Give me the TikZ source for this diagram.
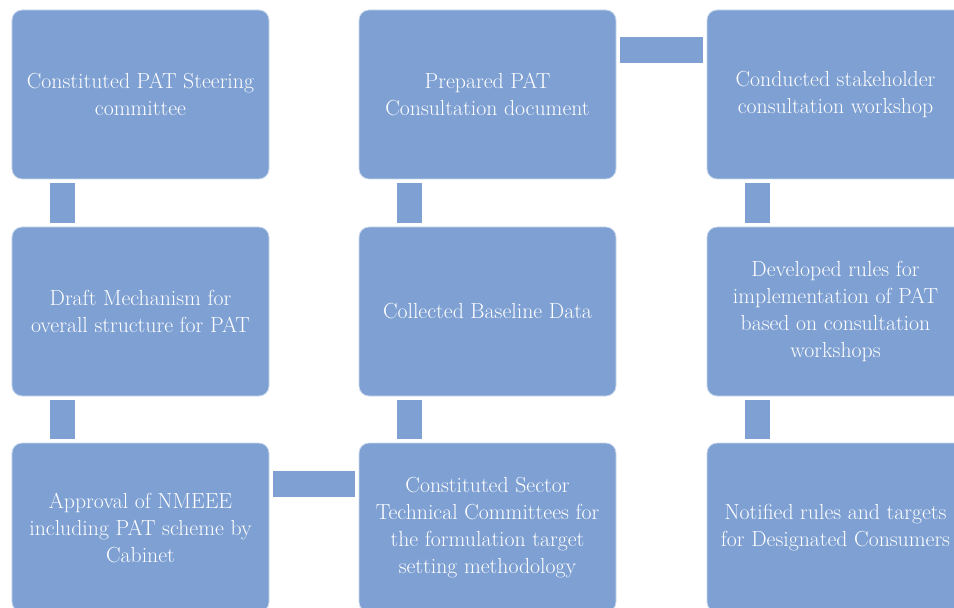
\documentclass[tikz,border=0pt]{standalone}
\definecolor{stepblue}{RGB}{126,160,210}
\tikzset{
  stage/.style={rectangle, rounded corners=0.25cm, fill=stepblue,
    draw=white!60!stepblue, line width=0.6pt,
    minimum width=6.425cm, minimum height=4.225cm,
    text=white, align=center, font=\fontsize{15.5}{19.2}\selectfont},
  vlink/.style={draw=stepblue, line width=0.625cm},
  hlink/.style={draw=stepblue, line width=0.67cm}
}
\begin{document}
\begin{tikzpicture}
    \useasboundingbox (0,0) rectangle (23.85,15.175);
    \clip (0,0) rectangle (23.85,15.175);
    % first column
    \node[stage] (steer) at (3.5125,12.8125) {Constituted PAT Steering\\committee};
    \node[stage] (draft) at (3.5125,7.3875) {Draft Mechanism for\\overall structure for PAT};
    \node[stage] (approval) at (3.5125,1.9875) {Approval of NMEEE\\including PAT scheme by\\Cabinet};
    % second column
    \node[stage] (consdoc) at (12.1875,12.8125) {Prepared PAT\\Consultation document};
    \node[stage] (baseline) at (12.1875,7.3875) {Collected Baseline Data};
    \node[stage] (sector) at (12.1875,1.9875) {Constituted Sector\\Technical Committees for\\the formulation target\\setting methodology};
    % third column
    \node[stage] (workshop) at (20.8875,12.8125) {Conducted stakeholder\\consultation workshop};
    \node[stage] (rules) at (20.8875,7.3875) {Developed rules for\\implementation of PAT\\based on consultation\\workshops};
    \node[stage] (notified) at (20.8875,1.9875) {Notified rules and targets\\for Designated Consumers};
    % connectors
    \draw[vlink] ([xshift=1.275cm,yshift=-0.1cm]steer.south west) -- ([xshift=1.275cm,yshift=0.1cm]draft.north west);
    \draw[vlink] ([xshift=1.275cm,yshift=-0.1cm]draft.south west) -- ([xshift=1.275cm,yshift=0.1cm]approval.north west);
    \draw[hlink] ([xshift=0.1cm,yshift=-1.0375cm]approval.north east) -- ([xshift=-0.1cm,yshift=-1.0375cm]sector.north west);
    \draw[vlink] ([xshift=1.275cm,yshift=0.1cm]sector.north west) -- ([xshift=1.275cm,yshift=-0.1cm]baseline.south west);
    \draw[vlink] ([xshift=1.275cm,yshift=0.1cm]baseline.north west) -- ([xshift=1.275cm,yshift=-0.1cm]consdoc.south west);
    \draw[hlink] ([xshift=0.1cm,yshift=-1.0125cm]consdoc.north east) -- ([xshift=-0.1cm,yshift=-1.0125cm]workshop.north west);
    \draw[vlink] ([xshift=1.275cm,yshift=-0.1cm]workshop.south west) -- ([xshift=1.275cm,yshift=0.1cm]rules.north west);
    \draw[vlink] ([xshift=1.275cm,yshift=-0.1cm]rules.south west) -- ([xshift=1.275cm,yshift=0.1cm]notified.north west);
\end{tikzpicture}
\end{document}
